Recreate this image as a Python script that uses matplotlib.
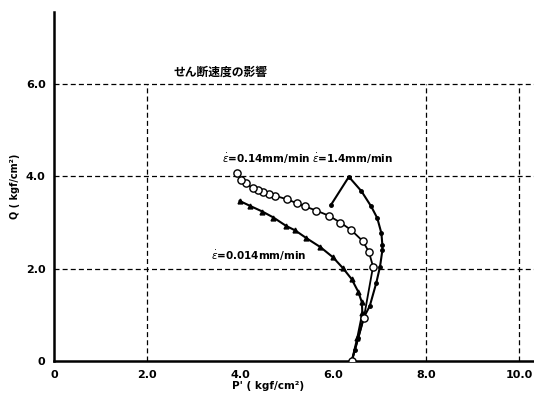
import matplotlib
matplotlib.use("Agg")
import matplotlib.pyplot as plt

plt.rcParams['font.family'] = ['DejaVu Sans', 'Noto Sans CJK JP']

# 0.14 mm/min (open circles)
p_014 = [6.40, 6.66, 6.86, 6.77, 6.64, 6.39, 6.16, 5.91, 5.64, 5.40, 5.22, 5.02,
         4.76, 4.63, 4.50, 4.38, 4.27, 4.12, 4.03, 3.94]
q_014 = [0.00, 0.93, 2.05, 2.37, 2.60, 2.84, 3.00, 3.15, 3.26, 3.35, 3.42, 3.50,
         3.58, 3.62, 3.66, 3.70, 3.75, 3.85, 3.92, 4.08]

# 1.4 mm/min (small dots)
p_14 = [6.40, 6.47, 6.54, 6.66, 6.79, 6.93, 7.01, 7.06, 7.06, 7.04, 6.95, 6.82,
        6.61, 6.34, 5.96]
q_14 = [0.00, 0.25, 0.50, 0.95, 1.20, 1.70, 2.05, 2.40, 2.52, 2.77, 3.10, 3.35,
        3.68, 3.99, 3.39]

# 0.014 mm/min (triangles)
p_0014 = [6.40, 6.52, 6.63, 6.62, 6.54, 6.40, 6.21, 6.00, 5.73, 5.42, 5.19, 4.99,
          4.72, 4.48, 4.22, 3.99]
q_0014 = [0.00, 0.50, 1.04, 1.28, 1.51, 1.78, 2.02, 2.25, 2.47, 2.67, 2.83, 2.93,
          3.11, 3.24, 3.36, 3.47]

xticks = [0, 2, 4, 6, 8, 10]
xtick_labels = ['0', '2.0', '4.0', '6.0', '8.0', '10.0']
yticks = [0, 2, 4, 6]
ytick_labels = ['0', '2.0', '4.0', '6.0']
grid_y = [2, 4, 6]
grid_x = [2, 8, 10]

fig = plt.figure(figsize=(5.34, 3.94), dpi=100)
ax = fig.add_axes([0.101, 0.0825, 0.899, 0.887])
ax.set_xlim(0, 10.32)
ax.set_ylim(0, 7.55)

# grid (dashed)
dash = (0, (4, 2.5))
for y in grid_y:
    ax.axhline(y, color='black', lw=0.9, ls=dash, zorder=1)
ax.vlines(grid_x, 0, 6, colors='black', lw=0.9, linestyles=dash, zorder=1)

# curves
ax.plot(p_0014, q_0014, '-', color='black', lw=1.5, marker='^', ms=3.5,
        mfc='black', mec='black', zorder=3)
ax.plot(p_14, q_14, '-', color='black', lw=1.5, marker='o', ms=2.5,
        mfc='black', mec='black', zorder=3)
ax.plot(p_014, q_014, '-', color='black', lw=1.3, marker='o', ms=5.2,
        mfc='white', mec='black', mew=1.0, zorder=4)

# annotations
ax.text(2.58, 6.1, 'せん断速度の影響', fontsize=8.5, fontweight='bold',
        family=['Noto Sans CJK JP'], ha='left', va='bottom')
ax.text(3.62, 4.22, r'$\dot{\varepsilon}$=0.14mm/min', fontsize=7.5,
        fontweight='bold', ha='left', va='bottom')
ax.text(5.55, 4.22, r'$\dot{\varepsilon}$=1.4mm/min', fontsize=7.5,
        fontweight='bold', ha='left', va='bottom')
ax.text(3.38, 2.12, r'$\dot{\varepsilon}$=0.014mm/min', fontsize=7.5,
        fontweight='bold', ha='left', va='bottom')

# axes styling
for s in ['top', 'right']:
    ax.spines[s].set_visible(False)
for s in ['left', 'bottom']:
    ax.spines[s].set_linewidth(1.8)
ax.set_xticks(xticks)
ax.set_xticklabels(xtick_labels, fontsize=8, fontweight='bold')
ax.set_yticks(yticks)
ax.set_yticklabels(ytick_labels, fontsize=8, fontweight='bold')
ax.tick_params(length=0, pad=6)

ax.set_xlabel("P' ( kgf/cm²)", fontsize=7.5, fontweight='bold', labelpad=1)
ax.xaxis.set_label_coords(0.445, -0.055)
ax.set_ylabel("Q ( kgf/cm²)", fontsize=7, fontweight='bold', labelpad=4)

fig.savefig('out.png', dpi=100)
